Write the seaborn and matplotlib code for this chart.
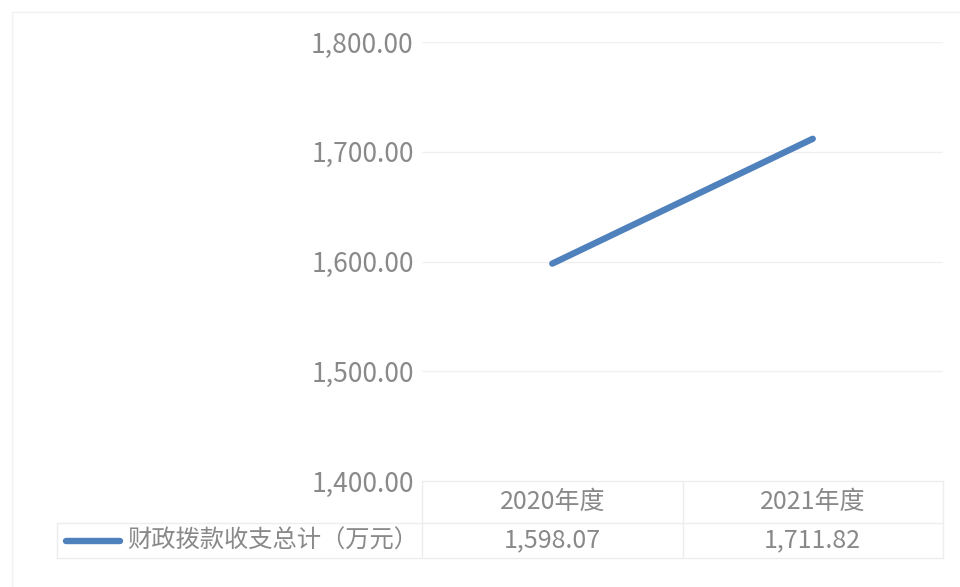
import seaborn as sns
import pandas as pd
import matplotlib.pyplot as plt
import matplotlib.transforms as mtrans
from matplotlib.lines import Line2D

sns.set_theme(style="white")
plt.rcParams['font.family'] = ['Noto Sans CJK SC', 'DejaVu Sans']

# data
categories = ["2020年度", "2021年度"]
values = [1598.07, 1711.82]
series_name = "财政拨款收支总计（万元）"
yticks = [1400, 1500, 1600, 1700, 1800]

txt = "#898989"
grid = "#f0f0f0"
blue = "#4f81bd"

df = pd.DataFrame({"cat": categories, "val": values})

fig = plt.figure(figsize=(9.6, 5.87), dpi=100)
W, H = 960, 587
ax = fig.add_axes([422 / W, 1 - 481 / H, 521 / W, 439 / H])

sns.lineplot(data=df, x="cat", y="val", ax=ax, color=blue, linewidth=4.6,
             solid_capstyle="round", sort=False)

ax.set_xlim(-0.5, 1.5)
ax.set_ylim(1400, 1800)
ax.set_yticks(yticks)
ax.set_yticklabels([f"{v:,.2f}" for v in yticks], color=txt, fontsize=19)
ax.tick_params(axis="y", length=0, pad=6)
ax.set_xticks([])
ax.set_xlabel("")
ax.set_ylabel("")
for s in ax.spines.values():
    s.set_visible(False)
for v in yticks[1:]:
    ax.axhline(v, color=grid, linewidth=1, zorder=0)

# data table below the plot
tr = mtrans.blended_transform_factory(ax.transData, ax.transAxes)
row_top, row_mid, row_bot = 0.0, -42 / 439, -77 / 439
tcol = "#ededed"
for y in [row_top, row_mid, row_bot]:
    ax.add_line(Line2D([-0.5, 1.5], [y, y], transform=tr, color=tcol, lw=1, clip_on=False))
for x in [-0.5, 0.5, 1.5]:
    ax.add_line(Line2D([x, x], [row_top, row_bot], transform=tr, color=tcol, lw=1, clip_on=False))
for i, (c, v) in enumerate(zip(categories, values)):
    ax.text(i, (row_top + row_mid) / 2, c, transform=tr, ha="center", va="center",
            color=txt, fontsize=18)
    ax.text(i, (row_mid + row_bot) / 2, f"{v:,.2f}", transform=tr, ha="center", va="center",
            color=txt, fontsize=18)

# legend cell
fig.add_artist(Line2D([57 / W, 422 / W], [1 - 523 / H] * 2, color=tcol, lw=1))
fig.add_artist(Line2D([57 / W, 422 / W], [1 - 558 / H] * 2, color=tcol, lw=1))
fig.add_artist(Line2D([57 / W, 57 / W], [1 - 523 / H, 1 - 558 / H], color=tcol, lw=1))
fig.add_artist(Line2D([66 / W, 120 / W], [1 - 541 / H] * 2, color=blue, lw=4.6,
                      solid_capstyle="round"))
fig.text(127 / W, 1 - 541 / H, series_name, ha="left", va="center", color=txt, fontsize=17.5)

# faint chart border
fig.add_artist(Line2D([12 / W, 1], [1 - 12 / H] * 2, color="#f2f2f2", lw=1))
fig.add_artist(Line2D([12 / W, 12 / W], [0, 1 - 12 / H], color="#f2f2f2", lw=1))

fig.savefig("out.png", dpi=100, facecolor="white")
